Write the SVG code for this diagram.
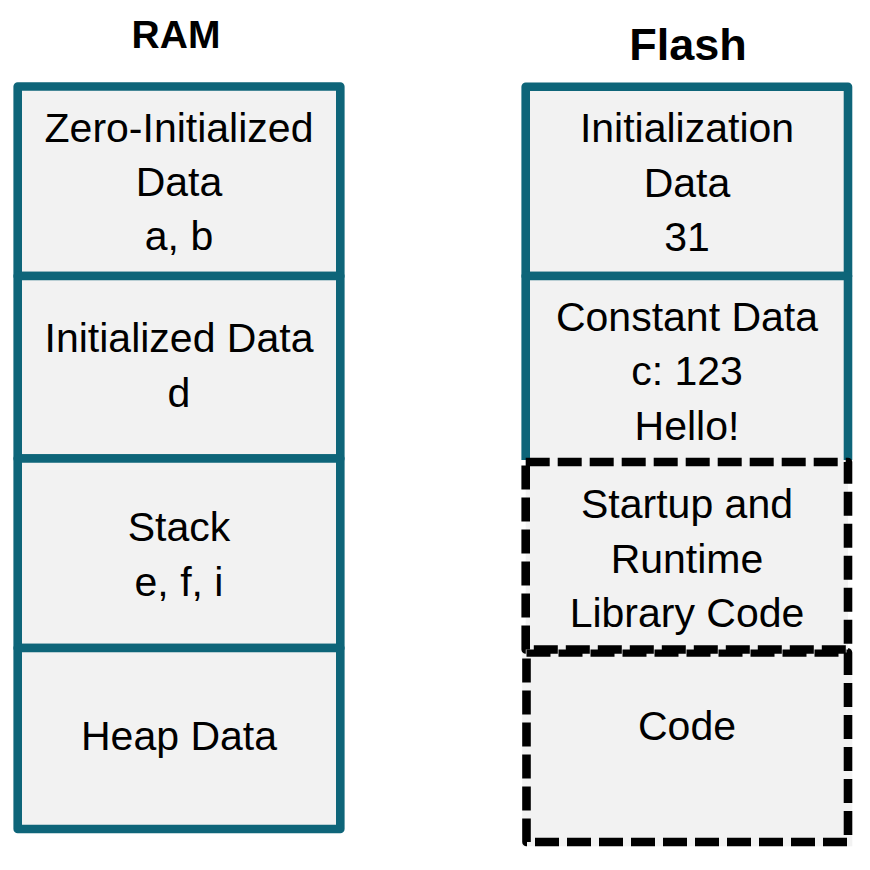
<svg xmlns="http://www.w3.org/2000/svg" width="870" height="870" viewBox="0 0 870 870">
<style>
.box{fill:#F2F2F2;stroke:#0E6579;stroke-width:8.6;stroke-linejoin:round}
.edge{fill:none;stroke:#0E6579;stroke-width:8.6;stroke-linejoin:round}
.fill{fill:#F2F2F2;stroke:none}
.under{fill:#F2F2F2;stroke:#F2F2F2;stroke-width:8.6}
.dash{fill:none;stroke:#000;stroke-width:8.6;stroke-dasharray:24 8;stroke-linejoin:round}
.t{font-family:"Liberation Sans",Arial,sans-serif;font-size:41px;fill:#000;text-anchor:middle}
.h{font-family:"Liberation Sans",Arial,sans-serif;font-weight:bold;fill:#000;text-anchor:middle}
</style>
<rect width="870" height="870" fill="#fff"/>
<g id="title-ram"><text class="h" x="176" y="48" font-size="39">RAM</text></g>
<g id="title-flash"><text class="h" x="688" y="60" font-size="45">Flash</text></g>

<g id="ram-zero">
<rect class="box" x="17.7" y="86.5" width="322.6" height="189.5"/>
<text class="t" x="179" y="142">Zero-Initialized</text>
<text class="t" x="179" y="196">Data</text>
<text class="t" x="179" y="250">a, b</text>
</g>
<g id="ram-init">
<rect class="box" x="17.7" y="276" width="322.6" height="182.5"/>
<text class="t" x="179" y="352">Initialized Data</text>
<text class="t" x="179" y="407">d</text>
</g>
<g id="ram-stack">
<rect class="box" x="17.7" y="458.5" width="322.6" height="189.5"/>
<text class="t" x="179" y="541">Stack</text>
<text class="t" x="179" y="596">e, f, i</text>
</g>
<g id="ram-heap">
<rect class="box" x="17.7" y="648" width="322.6" height="181"/>
<text class="t" x="179" y="750">Heap Data</text>
</g>

<g id="flash-init">
<rect class="box" x="525.7" y="86.7" width="322.3" height="189.3"/>
<text class="t" x="687" y="142">Initialization</text>
<text class="t" x="687" y="197">Data</text>
<text class="t" x="687" y="251">31</text>
</g>
<g id="flash-const">
<rect class="fill" x="525.7" y="276" width="322.3" height="186"/>
<path class="edge" d="M525.7,460 V276 H848 V460"/>
<text class="t" x="687" y="331">Constant Data</text>
<text class="t" x="687" y="385">c: 123</text>
<text class="t" x="687" y="440">Hello!</text>
</g>
<g id="flash-code">
<rect class="under" x="526.5" y="652.5" width="321.5" height="189.5"/>
<rect class="dash" x="526.5" y="652.5" width="321.5" height="189.5"/>
<text class="t" x="687" y="740">Code</text>
</g>
<g id="flash-startup">
<rect class="fill" x="525.7" y="462" width="322.3" height="187.5"/>
<rect class="dash" x="525.7" y="462" width="322.3" height="187.5"/>
<text class="t" x="687" y="518">Startup and</text>
<text class="t" x="687" y="573">Runtime</text>
<text class="t" x="687" y="627">Library Code</text>
</g>
</svg>
